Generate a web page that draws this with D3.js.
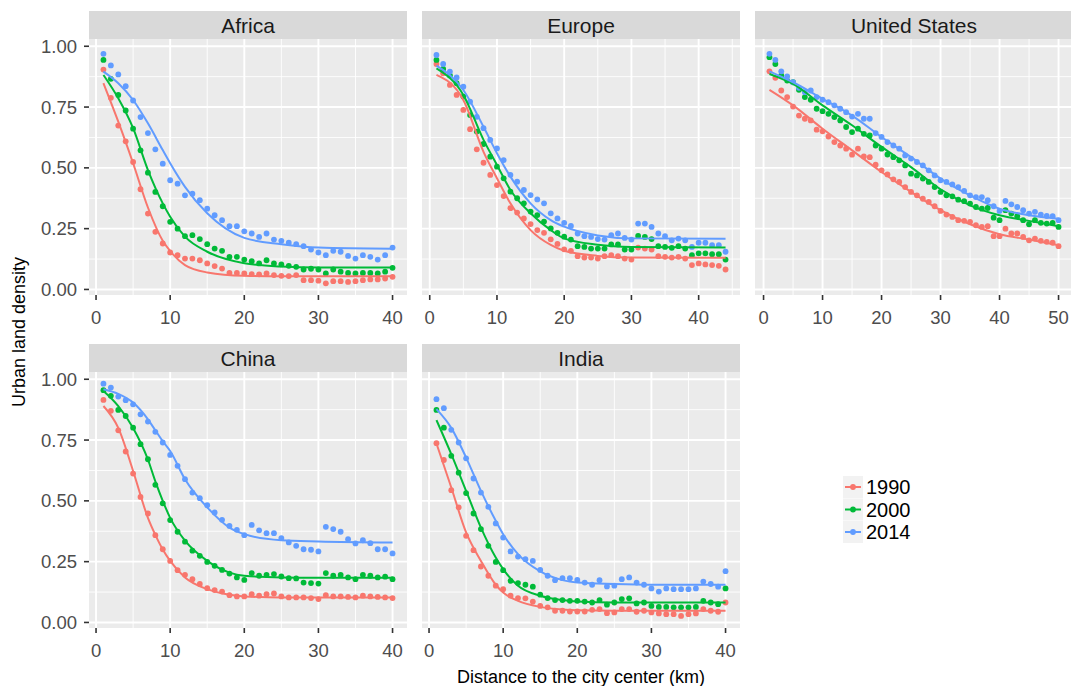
<!DOCTYPE html>
<html>
<head>
<meta charset="utf-8">
<script src="https://cdn.jsdelivr.net/npm/d3@7"></script>
<style>
  body { margin: 0; background: #fff; }
  svg text { font-family: "Liberation Sans", Arial, sans-serif; }
</style>
</head>
<body>
<div id="chart"></div>
<script>
// series / categories
const years = ["1990", "2000", "2014"];
const colors = ["#F8766D", "#00BA38", "#619CFF"];
const regions = ["Africa", "Europe", "United States", "China", "India"];

// urban land density by distance (km 1..n)
const af1990 = [.904,.788,.674,.609,.524,.412,.312,.237,.189,.152,.141,.127,.127,.120,.107,.096,.086,.068,.068,.066,.063,.062,.066,.059,.056,.055,.059,.038,.038,.036,.025,.034,.034,.031,.034,.038,.041,.041,.045,.052];
const af2000 = [.944,.866,.800,.736,.661,.572,.480,.401,.342,.278,.250,.219,.223,.207,.186,.168,.159,.134,.134,.123,.116,.107,.120,.107,.103,.097,.093,.082,.085,.082,.066,.082,.073,.068,.066,.068,.068,.066,.073,.089];
const af2014 = [.969,.921,.884,.836,.777,.709,.643,.576,.517,.449,.435,.387,.394,.367,.332,.305,.285,.260,.260,.239,.230,.216,.230,.205,.200,.192,.186,.178,.164,.152,.141,.159,.155,.138,.127,.141,.134,.123,.141,.172];

const eu1990 = [.927,.889,.841,.800,.738,.659,.576,.521,.471,.429,.384,.334,.316,.292,.269,.244,.233,.206,.187,.165,.159,.137,.131,.131,.127,.137,.141,.137,.127,.123,.172,.168,.164,.137,.134,.131,.134,.127,.100,.107,.103,.100,.097,.082];
const eu2000 = [.944,.907,.880,.848,.793,.717,.649,.598,.546,.505,.457,.402,.375,.354,.320,.306,.279,.251,.233,.217,.205,.178,.175,.168,.168,.168,.185,.185,.164,.164,.220,.216,.207,.178,.175,.171,.178,.168,.141,.148,.148,.145,.145,.123];
const eu2014 = [.964,.927,.896,.872,.834,.772,.710,.663,.615,.580,.532,.471,.443,.409,.388,.370,.354,.313,.292,.274,.261,.230,.219,.216,.207,.205,.223,.230,.212,.205,.271,.271,.257,.230,.219,.202,.209,.202,.175,.192,.192,.182,.182,.155];

const us1990 = [.897,.870,.818,.791,.752,.715,.702,.695,.657,.650,.629,.606,.592,.579,.554,.579,.547,.544,.513,.490,.473,.453,.442,.421,.401,.387,.373,.360,.342,.323,.308,.298,.285,.282,.278,.264,.257,.260,.219,.219,.250,.230,.230,.216,.202,.209,.200,.196,.192,.178];
const us2000 = [.955,.927,.880,.859,.852,.821,.791,.780,.743,.733,.722,.709,.695,.668,.647,.661,.640,.633,.592,.579,.555,.544,.531,.510,.476,.469,.456,.442,.421,.401,.387,.383,.369,.363,.353,.339,.332,.335,.295,.285,.326,.312,.301,.285,.268,.285,.274,.271,.274,.257];
const us2014 = [.969,.944,.897,.876,.852,.829,.811,.818,.791,.780,.770,.757,.743,.729,.711,.722,.702,.702,.643,.627,.606,.592,.579,.551,.538,.524,.510,.490,.469,.449,.442,.432,.421,.405,.387,.380,.380,.367,.342,.323,.364,.350,.339,.326,.312,.319,.308,.302,.301,.285];

const cn1990 = [.915,.870,.790,.703,.612,.516,.448,.359,.301,.253,.215,.196,.178,.158,.141,.133,.127,.112,.107,.107,.116,.110,.116,.119,.107,.103,.103,.103,.100,.096,.112,.107,.107,.105,.103,.110,.107,.105,.103,.100];
const cn2000 = [.955,.932,.874,.849,.801,.733,.671,.566,.490,.421,.373,.332,.295,.274,.249,.233,.216,.201,.185,.175,.203,.192,.196,.199,.189,.182,.181,.164,.162,.160,.203,.192,.195,.185,.178,.196,.192,.185,.188,.178];
const cn2014 = [.982,.966,.929,.914,.897,.856,.826,.784,.740,.689,.644,.589,.534,.511,.482,.452,.422,.397,.381,.359,.401,.379,.367,.367,.347,.329,.315,.301,.299,.292,.393,.384,.373,.342,.325,.338,.326,.301,.301,.284];

const in1990 = [.737,.668,.544,.473,.356,.297,.230,.192,.151,.137,.110,.100,.099,.086,.068,.062,.048,.048,.045,.045,.045,.052,.055,.038,.041,.055,.055,.044,.048,.041,.037,.034,.034,.027,.034,.037,.055,.048,.044,.082];
const in2000 = [.874,.801,.685,.616,.532,.448,.384,.315,.249,.215,.171,.162,.155,.147,.114,.100,.092,.092,.089,.089,.086,.082,.092,.073,.082,.096,.099,.078,.082,.068,.064,.064,.062,.062,.062,.064,.089,.082,.075,.140];
const in2014 = [.918,.881,.792,.740,.675,.592,.534,.475,.407,.349,.292,.271,.260,.253,.216,.192,.174,.182,.182,.175,.164,.155,.174,.148,.151,.178,.185,.164,.155,.140,.127,.140,.137,.137,.137,.140,.168,.158,.147,.211];

// fitted curves, read at knots (km)
const afKnots = [1, 3, 5, 7, 9, 10, 12, 15, 20, 25, 30, 40];
const afFit1990 = [.848,.69,.519,.337,.20,.158,.10,.07,.056,.054,.054,.054];
const afFit2000 = [.882,.786,.663,.491,.354,.299,.217,.155,.108,.094,.09,.09];
const afFit2014 = [.896,.848,.779,.683,.573,.519,.422,.313,.212,.186,.172,.167];

const euKnots = [1, 5, 8, 10, 12, 15, 18, 20, 25, 30, 44];
const euFit1990 = [.882,.779,.566,.457,.354,.244,.183,.159,.138,.131,.13];
const euFit2000 = [.909,.80,.615,.512,.409,.313,.244,.21,.184,.175,.172];
const euFit2014 = [.92,.82,.669,.56,.464,.354,.285,.258,.222,.21,.208];

const usKnots = [1, 5, 10, 15, 20, 25, 30, 35, 40, 45, 50];
const usFit1990 = [.821,.757,.661,.572,.483,.401,.326,.268,.227,.205,.182];
const usFit2000 = [.886,.845,.757,.675,.586,.503,.412,.346,.305,.282,.26];
const usFit2014 = [.897,.852,.784,.715,.627,.544,.456,.387,.332,.305,.291];

const cnKnots = [1, 3, 5, 7, 8, 9, 10, 12, 15, 18, 20, 25, 30, 40];
const cnFit1990 = [.89,.80,.623,.43,.36,.30,.253,.185,.137,.114,.107,.103,.103,.103];
const cnFit2000 = [.952,.89,.80,.67,.58,.50,.43,.336,.253,.205,.192,.185,.184,.184];
const cnFit2014 = [.959,.94,.904,.835,.79,.745,.705,.589,.473,.39,.363,.338,.333,.329];

const inKnots = [1, 3, 5, 7, 9, 10, 12, 15, 18, 20, 25, 30, 40];
const inFit1990 = [.736,.555,.37,.253,.155,.123,.089,.064,.053,.05,.048,.048,.048];
const inFit2000 = [.832,.692,.541,.39,.267,.219,.151,.11,.092,.086,.082,.082,.082];
const inFit2014 = [.877,.80,.678,.541,.418,.363,.281,.21,.174,.164,.158,.155,.155];

const yTicks = [0, 0.25, 0.5, 0.75, 1];
const yMinor = [0.125, 0.375, 0.625, 0.875];

const panels = [
  {name: regions[0], col: 0, row: 0, pts: [af1990, af2000, af2014], knots: afKnots, fit: [afFit1990, afFit2000, afFit2014]},
  {name: regions[1], col: 1, row: 0, pts: [eu1990, eu2000, eu2014], knots: euKnots, fit: [euFit1990, euFit2000, euFit2014]},
  {name: regions[2], col: 2, row: 0, pts: [us1990, us2000, us2014], knots: usKnots, fit: [usFit1990, usFit2000, usFit2014]},
  {name: regions[3], col: 0, row: 1, pts: [cn1990, cn2000, cn2014], knots: cnKnots, fit: [cnFit1990, cnFit2000, cnFit2014]},
  {name: regions[4], col: 1, row: 1, pts: [in1990, in2000, in2014], knots: inKnots, fit: [inFit1990, inFit2000, inFit2014]}
];

const width = 1071, height = 686;
const colLeft = [89, 422, 755];
const rowTop = [39, 372];
const pw = 318, ph = 256, stripH = 28;

const svg = d3.select("#chart").append("svg")
  .attr("width", width)
  .attr("height", height);

// shared y domain with ggplot-style 5% expansion
const allY = panels.flatMap(p => p.pts.flat());
const [yMin, yMax] = d3.extent(allY);
const yPad = (yMax - yMin) * 0.05;

panels.forEach(p => {
  const left = colLeft[p.col], top = rowTop[p.row];
  const n = p.pts[0].length;
  const xPad = (n - 1) * 0.05;
  const x = d3.scaleLinear().domain([1 - xPad, n + xPad]).range([left, left + pw]);
  const y = d3.scaleLinear().domain([yMin - yPad, yMax + yPad]).range([top + ph, top]);

  const g = svg.append("g");

  // strip
  g.append("rect").attr("x", left).attr("y", top - stripH).attr("width", pw).attr("height", stripH)
    .attr("fill", "#D9D9D9");
  g.append("text").attr("x", left + pw / 2).attr("y", top - stripH / 2)
    .attr("text-anchor", "middle").attr("dominant-baseline", "central")
    .attr("font-size", 21).attr("fill", "#1A1A1A").text(p.name);

  // panel background
  g.append("rect").attr("x", left).attr("y", top).attr("width", pw).attr("height", ph)
    .attr("fill", "#EBEBEB");

  const xTicks = x.ticks(5).filter(t => t >= x.domain()[0] && t <= x.domain()[1]);
  const step = xTicks[1] - xTicks[0];
  const xMinor = d3.range(xTicks[0] - step / 2, x.domain()[1], step)
    .filter(t => t >= x.domain()[0]);

  // minor grid
  g.selectAll(".ymin").data(yMinor).enter().append("line")
    .attr("x1", left).attr("x2", left + pw).attr("y1", d => y(d)).attr("y2", d => y(d))
    .attr("stroke", "#fff").attr("stroke-width", 0.9);
  g.selectAll(".xmin").data(xMinor).enter().append("line")
    .attr("y1", top).attr("y2", top + ph).attr("x1", d => x(d)).attr("x2", d => x(d))
    .attr("stroke", "#fff").attr("stroke-width", 0.9);
  // major grid
  g.selectAll(".ymaj").data(yTicks).enter().append("line")
    .attr("x1", left).attr("x2", left + pw).attr("y1", d => y(d)).attr("y2", d => y(d))
    .attr("stroke", "#fff").attr("stroke-width", 1.9);
  g.selectAll(".xmaj").data(xTicks).enter().append("line")
    .attr("y1", top).attr("y2", top + ph).attr("x1", d => x(d)).attr("x2", d => x(d))
    .attr("stroke", "#fff").attr("stroke-width", 1.9);

  // x axis
  g.selectAll(".xt").data(xTicks).enter().append("line")
    .attr("x1", d => x(d)).attr("x2", d => x(d)).attr("y1", top + ph).attr("y2", top + ph + 5)
    .attr("stroke", "#333").attr("stroke-width", 1.6);
  g.selectAll(".xl").data(xTicks).enter().append("text")
    .attr("x", d => x(d)).attr("y", top + ph + 22)
    .attr("text-anchor", "middle").attr("dominant-baseline", "central")
    .attr("font-size", 18.5).attr("fill", "#4D4D4D").text(d => d);

  // y axis only on first column
  if (p.col === 0) {
    g.selectAll(".yt").data(yTicks).enter().append("line")
      .attr("x1", left - 5).attr("x2", left).attr("y1", d => y(d)).attr("y2", d => y(d))
      .attr("stroke", "#333").attr("stroke-width", 1.6);
    g.selectAll(".yl").data(yTicks).enter().append("text")
      .attr("x", left - 12).attr("y", d => y(d))
      .attr("text-anchor", "end").attr("dominant-baseline", "central")
      .attr("font-size", 18.5).attr("fill", "#4D4D4D").text(d => d3.format(".2f")(d));
  }

  // points
  p.pts.forEach((vals, k) => {
    g.append("g").selectAll("circle").data(vals).enter().append("circle")
      .attr("cx", (d, i) => x(i + 1)).attr("cy", d => y(d)).attr("r", 2.9)
      .attr("fill", colors[k]);
  });

  // fitted lines
  const line = d3.line().x(d => x(d[0])).y(d => y(d[1])).curve(d3.curveMonotoneX);
  p.fit.forEach((vals, k) => {
    g.append("path").datum(p.knots.map((kx, i) => [kx, vals[i]]))
      .attr("d", line).attr("fill", "none")
      .attr("stroke", colors[k]).attr("stroke-width", 2);
  });
});

// axis titles
svg.append("text").attr("x", 581).attr("y", 677)
  .attr("text-anchor", "middle").attr("dominant-baseline", "central")
  .attr("font-size", 18).attr("fill", "#000").text("Distance to the city center (km)");
svg.append("text").attr("transform", "translate(19,332) rotate(-90)")
  .attr("text-anchor", "middle").attr("dominant-baseline", "central")
  .attr("font-size", 18).attr("fill", "#000").text("Urban land density");

// legend
const legend = svg.append("g").attr("transform", "translate(843,476)");
years.forEach((yr, i) => {
  const row = legend.append("g").attr("transform", `translate(0,${i * 22.5})`);
  row.append("rect").attr("width", 20).attr("height", 22).attr("fill", "#F2F2F2");
  row.append("line").attr("x1", 2).attr("x2", 18).attr("y1", 11).attr("y2", 11)
    .attr("stroke", colors[i]).attr("stroke-width", 2);
  row.append("circle").attr("cx", 10).attr("cy", 11).attr("r", 2.9).attr("fill", colors[i]);
  row.append("text").attr("x", 23).attr("y", 11).attr("dominant-baseline", "central")
    .attr("font-size", 20).attr("fill", "#000").text(yr);
});
</script>
</body>
</html>
